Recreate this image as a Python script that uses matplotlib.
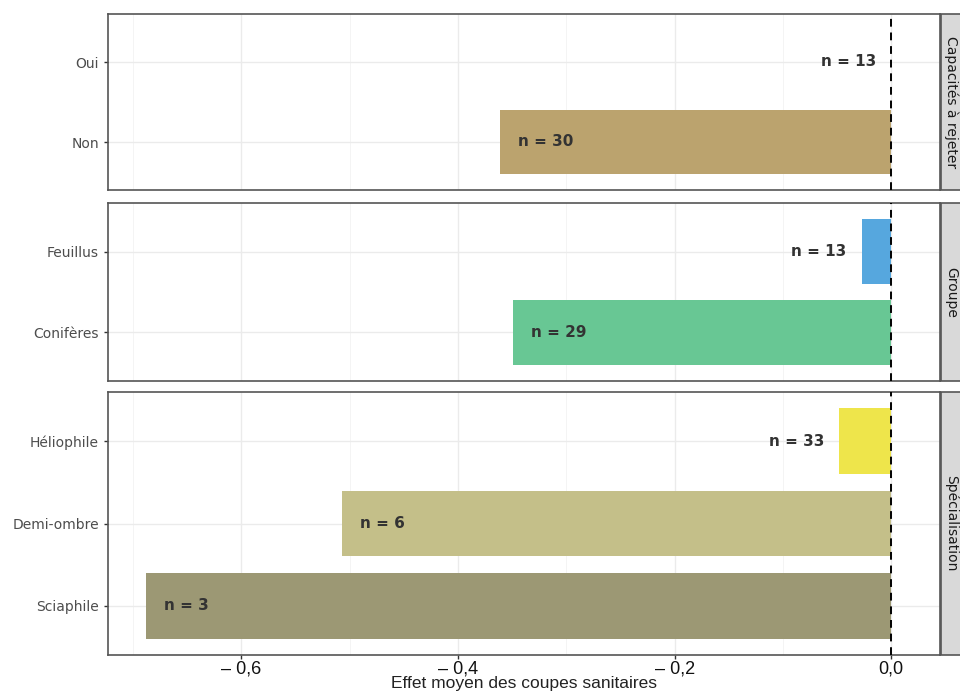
import matplotlib
matplotlib.use('Agg')
import matplotlib.pyplot as plt
from matplotlib.patches import Rectangle

# data, one list per facet (top category first)
facets = ['Capacités à rejeter', 'Groupe', 'Spécialisation']
cats_cap = ['Oui', 'Non']
vals_cap = [0.0, -0.361]
n_cap = [13, 30]
cols_cap = ['#BBA36E', '#BBA36E']

cats_grp = ['Feuillus', 'Conifères']
vals_grp = [-0.027, -0.349]
n_grp = [13, 29]
cols_grp = ['#56A7DE', '#68C794']

cats_spe = ['Héliophile', 'Demi-ombre', 'Sciaphile']
vals_spe = [-0.048, -0.507, -0.688]
n_spe = [33, 6, 3]
cols_spe = ['#EEE54B', '#C4BF89', '#9C9874']

xticks = [-0.6, -0.4, -0.2, 0.0]
xticklabels = ['– 0,6', '– 0,4', '– 0,2', '0,0']
xlabel = 'Effet moyen des coupes sanitaires'

W, H = 960, 697
fig = plt.figure(figsize=(W / 100, H / 100), dpi=100)

# panel pixel boxes (top, bottom)
boxes = [(14, 190), (203, 381), (392, 655)]
left, right = 108, 940
panels = [(cats_cap, vals_cap, n_cap, cols_cap),
          (cats_grp, vals_grp, n_grp, cols_grp),
          (cats_spe, vals_spe, n_spe, cols_spe)]

for i, ((cats, vals, ns, cols), (top, bot)) in enumerate(zip(panels, boxes)):
	ax = fig.add_axes([left / W, (H - bot) / H, (right - left) / W, (bot - top) / H])
	y = list(range(len(cats)))
	ax.barh(y, vals, height=0.8, color=cols, zorder=2)
	ax.set_ylim(len(cats) - 0.4, -0.6)
	ax.set_xlim(-0.723, 0.045)
	ax.set_yticks(y)
	ax.set_yticklabels(cats, fontsize=10, color='#4D4D4D', family='DejaVu Sans')
	ax.set_xticks(xticks)
	ax.set_xticks([-0.7, -0.5, -0.3, -0.1], minor=True)
	ax.grid(True, which='major', color='#EBEBEB', lw=1.0, zorder=0)
	ax.grid(True, which='minor', axis='x', color='#F3F3F3', lw=0.6, zorder=0)
	ax.set_axisbelow(True)
	ax.tick_params(axis='both', which='major', length=3, color='#333333', width=1)
	ax.tick_params(axis='x', which='minor', length=0)
	ax.axvline(0, color='black', ls=(0, (4, 3)), lw=1.4, zorder=3)
	for s in ax.spines.values():
		s.set_color('#555555')
		s.set_linewidth(1.2)
	for yy, v, n in zip(y, vals, ns):
		if v < -0.2:
			ax.annotate('n = %d' % n, (v, yy), xytext=(13, 0), textcoords='offset points',
				ha='left', va='center', fontsize=11, fontweight='bold', color='#333333', zorder=4)
		else:
			ax.annotate('n = %d' % n, (v, yy), xytext=(-11, 0), textcoords='offset points',
				ha='right', va='center', fontsize=11, fontweight='bold', color='#333333', zorder=4)
	if i < 2:
		ax.tick_params(axis='x', labelbottom=False, length=0)
	else:
		ax.set_xticklabels(xticklabels, fontsize=13, family='Liberation Sans', color='#111111')
		ax.tick_params(axis='x', pad=1)
		ax.set_xlabel(xlabel, fontsize=12.5, family='Liberation Sans', color='#222222', labelpad=-1)
	# facet strip on the right, cut by the figure edge
	fig.patches.append(Rectangle((941 / W, (H - bot) / H), 40 / W, (bot - top) / H,
		transform=fig.transFigure, facecolor='#D9D9D9', edgecolor='#555555', lw=1.2))
	fig.text(951 / W, (H - (top + bot) / 2) / H, facets[i], rotation=-90, ha='center', va='center',
		fontsize=10, color='#1A1A1A')

plt.savefig('out.png', dpi=100)
plt.close()
